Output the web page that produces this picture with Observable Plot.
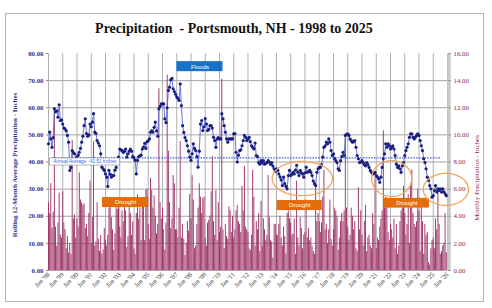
<!DOCTYPE html>
<html><head><meta charset="utf-8">
<script src="https://cdn.jsdelivr.net/npm/d3@7"></script>
<script src="https://cdn.jsdelivr.net/npm/@observablehq/plot@0.6"></script>
<style>
body{margin:0;background:#fff;}
#wrap{position:relative;width:492px;height:308px;overflow:hidden;font-family:"Liberation Serif","Times New Roman",serif;}
#frame{position:absolute;left:5px;top:13px;width:477px;height:287px;border:1.5px solid #b4b4b4;}
#chart{position:absolute;left:0;top:0;}
#title{position:absolute;left:0;top:21.5px;width:468px;text-align:center;font-weight:bold;font-size:14px;line-height:14px;color:#111;white-space:pre;}
.ylab{position:absolute;white-space:nowrap;font-size:7px;line-height:8px;transform:translate(-50%,-50%) rotate(-90deg);}
#ylabL{left:15px;top:165px;color:#2e3192;font-weight:bold;}
#ylabR{left:477px;top:178px;color:#8b1e56;}
</style></head><body>
<div id="wrap">
<div id="frame"></div>
<div id="chart"></div>
<div id="title">Precipitation  - Portsmouth, NH - 1998 to 2025</div>
<div id="ylabL" class="ylab">Rolling 12-Month Average Precipitation - Inches</div>
<div id="ylabR" class="ylab">Monthly Precipitation - Inches</div>
</div>
<script>
// Rolling 12-month precipitation (inches), monthly Jan 1998 .. Dec 2025
const rolling = [
 46.7,51.0,48.5,45.4,49.0,59.6,58.5,58.9,56.5,61.1,55.3,55.5, // 1998
 54.0,52.5,52.2,51.5,49.8,47.3,36.9,38.0,44.2,43.5,43.0,40.8, // 1999
 41.8,42.5,43.6,45.0,47.3,49.5,53.4,55.9,50.5,49.5,50.0,54.0, // 2000
 53.0,54.7,57.8,51.0,50.5,47.9,47.0,46.0,43.0,38.1,37.5,36.9, // 2001
 35.6,34.4,31.0,36.9,35.5,34.4,35.0,35.0,37.0,38.0,40.0,41.8, // 2002
 44.8,44.5,44.2,43.5,44.0,44.8,41.8,43.0,44.0,44.8,44.0,42.0, // 2003
 41.5,40.6,35.6,40.6,42.0,42.3,42.5,44.8,45.5,46.9,45.0,47.5, // 2004
 47.8,48.5,51.0,51.5,51.0,52.8,54.7,51.5,49.5,59.6,60.5,61.4, // 2005
 61.4,61.4,55.9,54.5,60.0,66.4,67.6,70.3,70.8,67.0,66.0,65.0, // 2006
 64.0,63.5,62.7,68.8,60.8,53.4,50.9,49.0,47.9,46.0,44.0,41.8, // 2007
 40.6,43.0,46.7,45.0,44.2,42.0,38.1,44.0,54.0,55.3,51.6,53.0, // 2008
 56.0,54.0,51.6,52.0,53.4,53.4,52.5,49.1,47.9,45.4,48.5,49.0, // 2009
 48.5,48.5,57.8,55.9,53.4,51.0,48.5,47.3,48.5,48.5,48.5,48.5, // 2010
 50.4,50.5,43.6,40.0,42.5,44.2,44.5,46.0,47.9,49.8,49.1,47.9, // 2011
 48.5,49.1,47.5,46.0,45.4,44.8,47.0,42.4,42.0,39.8,39.2,40.5, // 2012
 39.8,40.5,39.2,39.5,39.8,40.5,40.0,39.2,39.8,38.5,37.5,36.5, // 2013
 37.5,37.0,35.6,34.5,33.4,31.3,34.4,32.0,31.0,30.1,35.0,36.9, // 2014
 35.0,35.5,36.2,35.6,37.0,38.8,36.2,35.0,36.9,36.0,35.6,34.4, // 2015
 36.0,38.1,36.2,36.5,36.9,36.2,35.0,33.0,32.0,31.3,36.2,37.5, // 2016
 38.0,38.0,39.0,41.8,45.4,46.0,47.3,46.7,48.5,47.3,44.2,42.4, // 2017
 43.0,41.2,40.5,39.8,37.5,36.9,40.5,42.0,43.6,42.4,49.8,50.2, // 2018
 50.4,49.8,48.5,47.9,47.3,47.5,47.9,45.4,42.4,41.2,39.8,40.0, // 2019
 40.5,39.8,39.0,38.6,39.8,39.0,38.0,36.9,36.2,35.6,35.8,36.2, // 2020
 35.0,34.5,33.8,32.5,34.4,38.0,41.2,43.0,46.7,45.4,46.7,46.0, // 2021
 44.8,45.4,46.0,44.8,42.4,39.2,38.0,38.6,37.5,36.2,38.6,39.8, // 2022
 42.4,44.2,45.4,46.7,49.1,50.4,50.4,49.1,48.5,49.1,49.8,50.4, // 2023
 49.8,47.9,46.0,44.2,41.2,39.8,37.5,34.4,33.2,31.3,30.1,27.0, // 2024
 27.6,29.5,31.3,28.9,30.1,29.5,30.1,28.9,30.1,29.0,28.3,27.6  // 2025
];
// Monthly precipitation (inches), Jan 1998 .. Dec 2025
const monthly = [
 5.0,4.2,6.4,3.1,4.3,12.0,3.2,1.8,3.5,5.7,2.6,2.4,
 5.8,3.5,3.0,1.6,2.5,1.3,2.0,1.2,9.6,3.8,4.1,2.4,
 3.8,3.2,7.2,5.2,5.0,4.8,4.9,3.1,3.4,2.5,4.2,6.6,
 2.0,3.9,9.5,1.8,2.1,5.0,2.3,1.4,2.6,1.2,1.5,3.1,
 2.2,1.8,2.6,4.6,5.4,3.9,3.0,1.5,2.7,4.8,4.5,5.0,
 3.2,2.4,4.4,3.6,4.8,4.4,1.7,2.5,4.9,4.2,2.6,3.6,
 1.6,1.2,4.2,5.6,3.8,4.6,2.2,4.8,5.1,2.2,5.9,6.0,
 3.4,2.3,6.8,5.9,4.6,5.5,4.0,2.7,3.4,13.4,5.0,3.8,
 4.6,3.0,1.5,3.5,14.4,8.8,5.0,3.1,3.8,7.0,6.4,3.0,
 3.0,2.4,4.6,9.5,2.4,3.4,2.3,1.1,2.0,3.6,2.9,5.6,
 3.8,7.0,5.2,1.6,1.8,3.4,4.6,6.4,5.4,4.2,5.3,5.4,
 2.4,1.8,3.5,3.7,4.0,5.8,8.4,3.6,2.6,5.9,2.2,5.0,
 2.8,3.2,14.1,3.0,1.6,3.4,2.5,2.3,4.7,4.4,2.8,4.0,
 2.4,3.0,4.4,4.8,3.6,3.4,2.8,6.2,4.4,7.7,3.2,3.0,
 2.8,1.6,1.5,2.6,7.4,5.4,1.8,3.6,3.0,4.2,1.4,5.1,
 1.8,3.8,3.0,2.2,2.6,7.0,3.9,2.2,2.1,0.9,3.4,3.4,
 2.6,2.6,3.4,4.0,2.4,1.8,3.2,2.5,1.2,4.2,4.4,3.8,
 3.5,2.6,2.7,3.8,1.2,6.6,2.4,1.8,3.9,3.1,1.6,2.6,
 2.8,5.2,2.4,3.1,2.2,2.4,1.8,1.4,1.2,6.4,3.6,4.2,
 3.6,2.8,3.5,5.4,7.4,3.0,3.4,2.0,3.0,5.2,2.3,1.8,
 3.0,4.6,4.4,4.0,1.5,2.4,3.6,4.2,3.6,4.4,9.8,4.6,
 3.2,2.2,2.6,4.6,4.0,3.0,3.6,1.6,1.4,6.1,3.0,4.4,
 2.6,1.8,3.6,4.8,1.4,2.4,2.6,1.8,1.6,4.2,3.4,6.9,
 1.6,2.4,2.2,3.2,3.8,4.4,10.3,4.6,5.4,4.8,2.8,2.2,
 3.4,3.0,2.4,3.8,1.6,3.4,1.2,1.8,3.6,4.4,4.6,6.2,
 4.2,2.6,3.4,5.6,2.0,6.4,7.4,4.2,3.4,3.2,3.6,6.0,
 4.4,1.4,4.8,3.6,1.2,3.4,2.6,2.8,0.6,0.4,1.6,2.2,
 2.4,1.6,3.8,3.0,6.0,3.4,1.2,1.4,1.8,2.0,4.2,1.3
];
const tickYears = [1998,1999,2000,2001,2002,2003,2004,2005,2006,2007,2008,2009,2010,2011,2012,2013,2014,2015,2016,2017,2018,2019,2020,2021,2022,2023,2024,2025,2026];
const leftTicks = [0,10,20,30,40,50,60,70,80];
const rightTicks = [0,2,4,6,8,10,12,14,16];
const gridValues = [0,10,20,30,40,50,60,70];
const averageValue = 41.51;
const averageLine = [{from:"1998-04-15", to:"2025-07-15", value:41.51}];
const averageLabel = [{from:"1998-02-05", to:"2003-01-10", top:41.3, bottom:38.7, text:"Annual Average - 41.51 Inches"}];
const floodBoxes = [{from:"2007-01-05", to:"2010-04-01", top:77.0, bottom:73.3, text:"Floods"}];
const droughtBoxes = [
 {from:"2001-10-15", to:"2005-01-15", top:26.9, bottom:23.2, text:"Drought"},
 {from:"2014-01-20", to:"2017-03-20", top:25.8, bottom:22.1, text:"Drought"},
 {from:"2021-07-25", to:"2024-09-25", top:26.6, bottom:23.0, text:"Drought"}
];
const ellipses = [
 {center:"2015-10-25", rxDays:773, cy:33.9, ry:6.3},
 {center:"2022-02-01", rxDays:514, cy:33.9, ry:6.6},
 {center:"2025-11-20", rxDays:579, cy:29.9, ry:5.9}
];

const S = 80 / 16;
const t0 = new Date(Date.UTC(1998, 0, 1));
const data = monthly.map((v, i) => {
  const d = d3.utcMonth.offset(t0, i);
  return {date: d, next: d3.utcMonth.offset(d, 1), rain: v * S, roll: rolling[i]};
});
const tickDates = tickYears.map(y => new Date(Date.UTC(y, 0, 1)));
const P = s => new Date(s + "T00:00:00Z");
const boxes = b => b.map(o => ({...o, x1: P(o.from), x2: P(o.to), mid: new Date((+P(o.from) + +P(o.to)) / 2), ym: (o.top + o.bottom) / 2}));
const fl = boxes(floodBoxes), dr = boxes(droughtBoxes), al = boxes(averageLabel);
const ellPts = [];
ellipses.forEach((e, k) => {
  const c = +P(e.center);
  for (let j = 0; j <= 72; j++) {
    const a = j / 72 * 2 * Math.PI;
    ellPts.push({k, x: new Date(c + e.rxDays * 86400000 * Math.cos(a)), y: e.cy + e.ry * Math.sin(a)});
  }
});
const sans = '"Liberation Sans", Arial, sans-serif';

const chart = Plot.plot({
  width: 492, height: 308,
  marginLeft: 48, marginRight: 45, marginTop: 53, marginBottom: 38,
  style: {fontFamily: '"Liberation Serif","Times New Roman",serif', fontSize: "6.5px", background: "none", overflow: "visible"},
  x: {type: "utc", domain: [tickDates[0], tickDates[tickDates.length - 1]]},
  y: {domain: [0, 80]},
  marks: [
    Plot.ruleY(gridValues, {stroke: "#9a9a9a", strokeWidth: 0.9}),
    Plot.ruleX(tickDates, {stroke: "#a8a8a8", strokeWidth: 0.9}),
    Plot.rect(data, {x1: "date", x2: "next", y1: 0, y2: "rain", fill: "#9e3368", insetRight: 0.25}),
    Plot.ruleX([tickDates[tickDates.length - 1]], {stroke: "#cacaca", strokeWidth: 3.5, dx: 1.5}),
    Plot.ruleY(averageLine, {x1: d => P(d.from), x2: d => P(d.to), y: "value", stroke: "#3d63e0", strokeWidth: 1.2, strokeDasharray: "1.6,1.2"}),
    Plot.line(data, {x: "date", y: "roll", stroke: "#5767d0", strokeWidth: 0.9}),
    Plot.dot(data, {x: "date", y: "roll", r: 1.6, fill: "#1b2080", stroke: "none"}),
    Plot.rect(al, {x1: "x1", x2: "x2", y1: "bottom", y2: "top", fill: "white", stroke: "#8a8a8a", strokeWidth: 0.6}),
    Plot.text(al, {x: "mid", y: "ym", text: "text", fill: "#3d63e0", fontSize: 4.6, fontFamily: sans}),
    Plot.rect(fl, {x1: "x1", x2: "x2", y1: "bottom", y2: "top", fill: "#1672c6"}),
    Plot.text(fl, {x: "mid", y: "ym", text: "text", fill: "white", fontSize: 6, fontFamily: sans}),
    Plot.rect(dr, {x1: "x1", x2: "x2", y1: "bottom", y2: "top", fill: "#e46d0b"}),
    Plot.text(dr, {x: "mid", y: "ym", text: "text", fill: "white", fontSize: 6, fontFamily: sans}),
    Plot.line(ellPts, {x: "x", y: "y", z: "k", stroke: "#f2a45a", strokeWidth: 1.3}),
    Plot.axisY(leftTicks, {anchor: "left", tickFormat: d => d.toFixed(2), tickSize: 2, tickPadding: 3, fill: "#2e3192", stroke: "#888", fontWeight: "bold", fontSize: 6.8, label: null}),
    Plot.axisY(rightTicks.map(v => v * S), {anchor: "right", tickFormat: d => (d / S).toFixed(2), tickSize: 3, tickPadding: 3, fill: "#8b1e56", stroke: "#999", fontSize: 6.8, label: null}),
    Plot.axisX(tickDates, {anchor: "bottom", tickFormat: d => "Jan '" + String(d.getUTCFullYear()).slice(2), tickRotate: -45, tickSize: 0, tickPadding: 3, fill: "#333", fontSize: 6.5, label: null})
  ]
});
document.getElementById("chart").appendChild(chart);
</script>
</body></html>
